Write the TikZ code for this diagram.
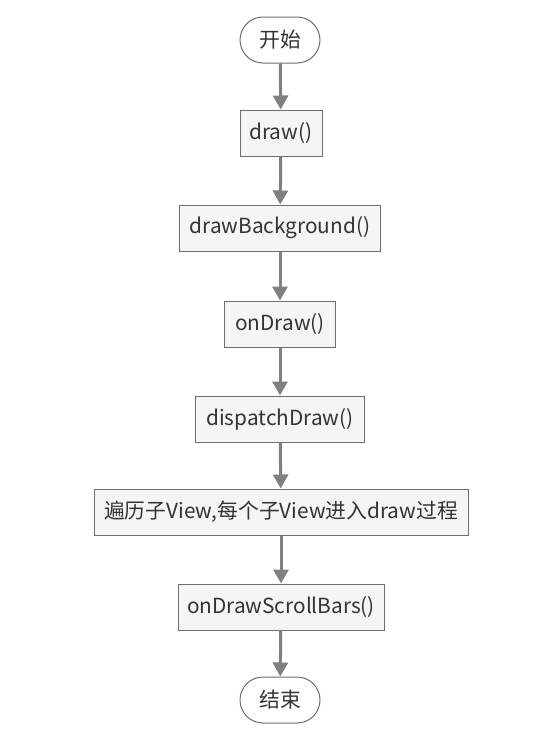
\documentclass[tikz,border=0pt]{standalone}
\usepackage{fontspec}
\setmainfont{Noto Sans CJK SC}
\usetikzlibrary{arrows.meta}
\definecolor{boxfill}{HTML}{F5F5F5}
\definecolor{boxline}{HTML}{6E6E6E}
\definecolor{flowgray}{HTML}{808080}
\definecolor{textgray}{HTML}{333333}
\begin{document}
\begin{tikzpicture}[x=1pt,y=-1pt,
    stepbox/.style={draw=boxline,fill=boxfill,line width=1pt,minimum height=46pt,inner sep=0pt,text=textgray,font=\fontsize{20.8}{24}\selectfont},
    termbox/.style={stepbox,fill=white,rounded corners=23pt,minimum width=80pt},
    flow/.style={draw=flowgray,line width=3pt,-{Triangle[length=14pt,width=15pt]}}]
    \useasboundingbox (0,0) rectangle (535,753);
    %% terminals and steps
    \node[termbox] (start) at (280,40) {开始};
    \node[stepbox,minimum width=82pt] (draw) at (281,133) {draw()};
    \node[stepbox,minimum width=201pt] (bg) at (280,228) {drawBackground()};
    \node[stepbox,minimum width=111pt] (ondraw) at (280,324) {onDraw()};
    \node[stepbox,minimum width=169pt] (dispatch) at (280,419) {dispatchDraw()};
    \node[stepbox,minimum width=374pt] (children) at (281,512) {遍历子View,每个子View进入draw过程};
    \node[stepbox,minimum width=206pt] (scroll) at (281,607) {onDrawScrollBars()};
    \node[termbox] (stop) at (280,700) {结束};
    %% connectors
    \draw[flow] (start) -- (draw);
    \draw[flow] (draw) -- (bg);
    \draw[flow] (bg) -- (ondraw);
    \draw[flow] (ondraw) -- (dispatch);
    \draw[flow] (dispatch) -- (children);
    \draw[flow] (children) -- (scroll);
    \draw[flow] (scroll) -- (stop);
\end{tikzpicture}
\end{document}
